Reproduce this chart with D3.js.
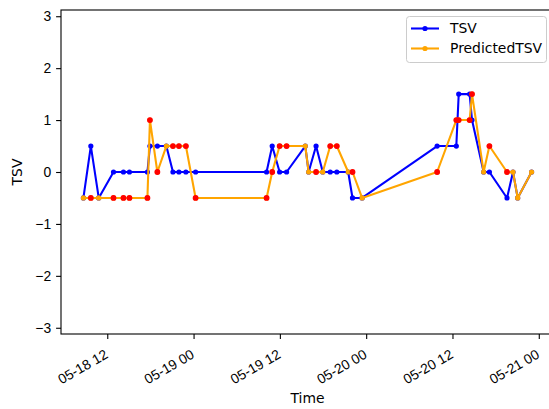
<!DOCTYPE html>
<html>
<head>
<meta charset="utf-8">
<script src="https://cdn.jsdelivr.net/npm/d3@7"></script>
<style>
  html, body { margin: 0; padding: 0; background: #fff; }
  svg { display: block; font-family: "DejaVu Sans", sans-serif; }
</style>
</head>
<body>
<svg id="chart" width="549" height="409"></svg>
<script>
// Observation times (UTC) with measured and predicted thermal sensation votes
const times = [
  "2023-05-18T08:41", "2023-05-18T09:43", "2023-05-18T10:49", "2023-05-18T12:52",
  "2023-05-18T14:15", "2023-05-18T15:05", "2023-05-18T17:35", "2023-05-18T17:56",
  "2023-05-18T18:58", "2023-05-18T20:13", "2023-05-18T21:08", "2023-05-18T21:58",
  "2023-05-18T22:56", "2023-05-19T00:17", "2023-05-19T10:09", "2023-05-19T10:56",
  "2023-05-19T11:58", "2023-05-19T12:56", "2023-05-19T15:32", "2023-05-19T16:00",
  "2023-05-19T17:02", "2023-05-19T17:58", "2023-05-19T19:00", "2023-05-19T19:55",
  "2023-05-19T21:30", "2023-05-19T22:06", "2023-05-19T23:26", "2023-05-20T09:52",
  "2023-05-20T12:32", "2023-05-20T12:52", "2023-05-20T14:23", "2023-05-20T14:43",
  "2023-05-20T16:20", "2023-05-20T17:08", "2023-05-20T19:35", "2023-05-20T20:25",
  "2023-05-20T21:04", "2023-05-20T23:00"
];
const tsv = [
  -0.5, 0.5, -0.5, 0, 0, 0, 0, 0.5, 0.5, 0.5, 0, 0, 0, 0, 0, 0.5, 0, 0, 0.5, 0,
  0.5, 0, 0, 0, 0, -0.5, -0.5, 0.5, 0.5, 1.5, 1.5, 1.0, 0, 0, -0.5, 0, -0.5, 0
];
const predictedTsv = [
  -0.5, -0.5, -0.5, -0.5, -0.5, -0.5, -0.5, 1.0, 0, 0.5, 0.5, 0.5, 0.5, -0.5, -0.5, 0, 0.5, 0.5, 0.5, 0,
  0, 0, 0.5, 0.5, 0, 0, -0.5, 0, 1.0, 1.0, 1.0, 1.5, 0, 0.5, 0, 0, -0.5, 0
];
const xTickLabels = ["05-18 12", "05-19 00", "05-19 12", "05-20 00", "05-20 12", "05-21 00"];
const yTicks = [-3, -2, -1, 0, 1, 2, 3];

const parse = d3.utcParse("%Y-%m-%dT%H:%M");
const rows = times.map((t, i) => ({ t: parse(t), tsv: tsv[i], pred: predictedTsv[i] }));

const svg = d3.select("#chart");
const plot = { left: 61, right: 554, top: 10, bottom: 334 };

// time domain padded by 5% on each side
const tExt = d3.extent(rows, d => d.t);
const span = tExt[1] - tExt[0];
const x = d3.scaleUtc()
  .domain([new Date(+tExt[0] - span * 0.05), new Date(+tExt[1] + span * 0.05)])
  .range([plot.left, plot.right]);
const y = d3.scaleLinear().domain([-3.12, 3.12]).range([plot.bottom, plot.top]);

const tickDates = xTickLabels.map(s => d3.utcParse("%m-%d %H")(s));
tickDates.forEach(d => d.setUTCFullYear(2023));

// x axis with labels rotated 30 degrees, right end tucked under the tick
const xAxis = d3.axisBottom(x)
  .tickValues(tickDates)
  .tickFormat((d, i) => xTickLabels[i])
  .tickSize(4.9).tickPadding(0).tickSizeOuter(0);
const gx = svg.append("g").attr("transform", `translate(0,${plot.bottom})`).call(xAxis);
gx.select(".domain").remove();
gx.selectAll(".tick line").attr("stroke", "#000").attr("stroke-width", 1.1);
gx.selectAll(".tick text")
  .attr("fill", "#000").attr("font-size", "13.9px")
  .attr("text-anchor", "end")
  .attr("x", 0).attr("y", 0)
  .attr("dy", "0.72em")
  .attr("transform", "translate(-3.8,14.5) rotate(-30)");

// y axis
const yAxis = d3.axisLeft(y)
  .tickValues(yTicks)
  .tickFormat(d => d < 0 ? "\u2212" + Math.abs(d) : String(d))
  .tickSize(4.9).tickPadding(4.9).tickSizeOuter(0);
const gy = svg.append("g").attr("transform", `translate(${plot.left},0)`).call(yAxis);
gy.select(".domain").remove();
gy.selectAll(".tick line").attr("stroke", "#000").attr("stroke-width", 1.1);
gy.selectAll(".tick text").attr("fill", "#000").attr("font-size", "13.9px");

// axes frame
svg.append("rect")
  .attr("x", plot.left).attr("y", plot.top)
  .attr("width", plot.right - plot.left).attr("height", plot.bottom - plot.top)
  .attr("fill", "none").attr("stroke", "#000").attr("stroke-width", 1.1);

// axis titles
svg.append("text").attr("x", (plot.left + plot.right) / 2).attr("y", 403)
  .attr("text-anchor", "middle").attr("font-size", "13.9px").text("Time");
svg.append("text").attr("transform", `translate(22,${(plot.top + plot.bottom) / 2}) rotate(-90)`)
  .attr("text-anchor", "middle").attr("font-size", "13.9px").text("TSV");

// series
const series = [
  { key: "tsv", name: "TSV", color: "blue" },
  { key: "pred", name: "PredictedTSV", color: "orange" }
];
const line = key => d3.line().x(d => x(d.t)).y(d => y(d[key]));
series.forEach(s => {
  svg.append("path").datum(rows)
    .attr("d", line(s.key))
    .attr("fill", "none").attr("stroke", s.color)
    .attr("stroke-width", 2.08).attr("stroke-linejoin", "round");
  svg.append("g").selectAll("circle").data(rows).join("circle")
    .attr("cx", d => x(d.t)).attr("cy", d => y(d[s.key]))
    .attr("r", 2.6).attr("fill", s.color);
});

// mismatched predictions
svg.append("g").selectAll("circle").data(rows.filter(d => d.tsv !== d.pred)).join("circle")
  .attr("cx", d => x(d.t)).attr("cy", d => y(d.pred))
  .attr("r", 2.9).attr("fill", "red");

// legend
const lg = svg.append("g");
lg.append("rect").attr("x", 406.5).attr("y", 16.5).attr("width", 140).attr("height", 46)
  .attr("rx", 3).attr("fill", "#fff").attr("fill-opacity", 0.8)
  .attr("stroke", "#cccccc").attr("stroke-width", 1);
series.forEach((s, i) => {
  const cy = 28.5 + i * 20;
  lg.append("line").attr("x1", 411).attr("x2", 439).attr("y1", cy).attr("y2", cy)
    .attr("stroke", s.color).attr("stroke-width", 2.08);
  lg.append("circle").attr("cx", 425).attr("cy", cy).attr("r", 2.6).attr("fill", s.color);
  lg.append("text").attr("x", 450).attr("y", cy).attr("dy", "0.35em")
    .attr("font-size", "13.9px").text(s.name);
});
</script>
</body>
</html>
